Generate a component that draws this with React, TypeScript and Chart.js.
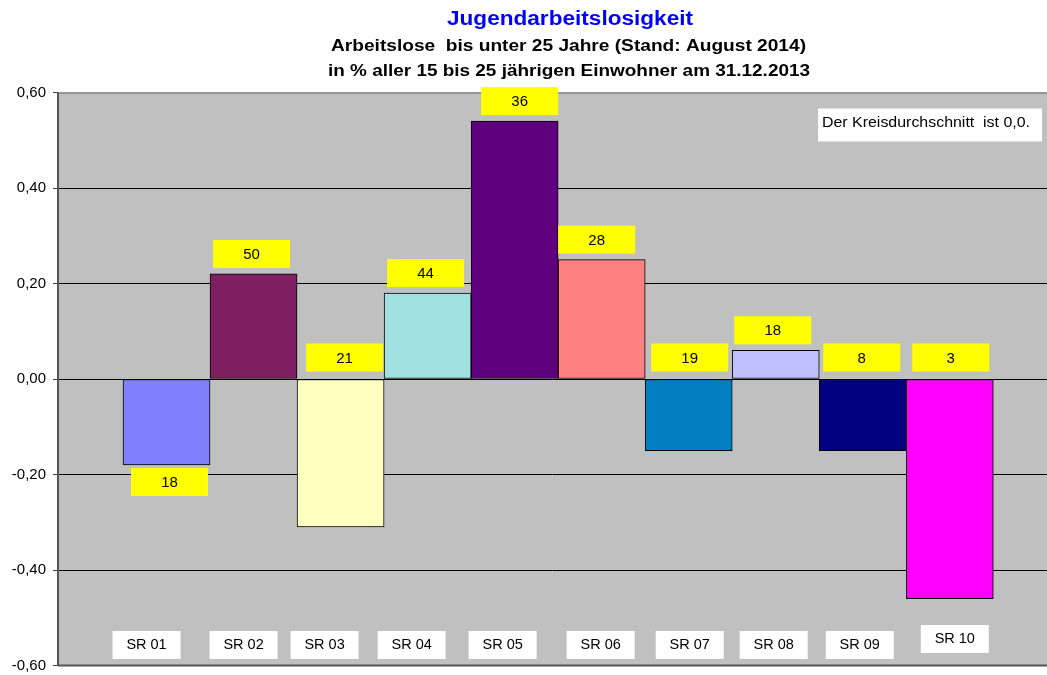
import React, { useEffect, useRef } from "react";
import { Chart, registerables } from "chart.js";

Chart.register(...registerables);

// ---------- data ----------
const categories = ["SR 01", "SR 02", "SR 03", "SR 04", "SR 05", "SR 06", "SR 07", "SR 08", "SR 09", "SR 10"];
const values = [-0.18, 0.22, -0.31, 0.18, 0.54, 0.25, -0.15, 0.06, -0.15, -0.46];
const boxLabels = ["18", "50", "21", "44", "36", "28", "19", "18", "8", "3"];
const yMin = -0.6;
const yMax = 0.6;
const yStep = 0.2;

const titleText = "Jugendarbeitslosigkeit";
const subtitle1 = "Arbeitslose  bis unter 25 Jahre (Stand: August 2014)";
const subtitle2 = "in % aller 15 bis 25 jährigen Einwohner am 31.12.2013";
const noteText = "Der Kreisdurchschnitt  ist 0,0.";

// ---------- styles ----------
const barColors = ["#8080FF", "#7F1F5F", "#FFFFC0", "#A0E0E0", "#5F007F", "#FF8080", "#0080C0", "#C0C0FF", "#000080", "#FF00FF"];
const labelPlacement = ["belowEnd", "aboveEnd", "aboveZero", "aboveEnd", "aboveEnd", "aboveEnd", "aboveZero", "aboveEnd", "aboveZero", "aboveZero"];
const labelNudgeX = [3, -2, 4, -2, 5, -5, 1, -3, -1, 1];
const axisLabelNudgeX = [-20, -10, -16, -16, -12, -1, 1, -2, -3, 5];
const axisLabelLift = [0, 0, 0, 0, 0, 0, 0, 0, 0, 6];

const FONT = "'Liberation Sans', Arial, sans-serif";

function drawText(
  ctx: CanvasRenderingContext2D,
  text: string,
  x: number,
  y: number,
  font: string,
  color: string,
  align: CanvasTextAlign = "center",
  targetWidth?: number
) {
  ctx.save();
  ctx.font = font;
  ctx.fillStyle = color;
  ctx.textAlign = align;
  ctx.textBaseline = "alphabetic";
  const w = ctx.measureText(text).width;
  const s = targetWidth ? targetWidth / w : 1;
  ctx.translate(x, y);
  ctx.scale(s, 1);
  ctx.fillText(text, 0, 0);
  ctx.restore();
}

const decorPlugin = {
  id: "decor",
  beforeDraw(chart: any) {
    const { ctx, chartArea: a } = chart;
    ctx.save();
    ctx.fillStyle = "#C0C0C0";
    ctx.fillRect(a.left, a.top, a.right - a.left, a.bottom - a.top);
    ctx.restore();
  },
  afterDatasetsDraw(chart: any) {
    const { ctx, chartArea: a } = chart;
    // plot border
    ctx.save();
    ctx.strokeStyle = "#808080";
    ctx.lineWidth = 1.5;
    ctx.beginPath();
    ctx.moveTo(a.left, a.top + 0.5);
    ctx.lineTo(a.right, a.top + 0.5);
    ctx.stroke();
    ctx.strokeStyle = "#555555";
    ctx.lineWidth = 2;
    ctx.beginPath();
    ctx.moveTo(a.left, a.top);
    ctx.lineTo(a.left, a.bottom);
    ctx.stroke();
    ctx.beginPath();
    ctx.moveTo(a.left, a.bottom);
    ctx.lineTo(a.right, a.bottom);
    ctx.stroke();
    ctx.restore();

    const meta = chart.getDatasetMeta(0);
    const boxW = 77;
    const boxH = 28;
    meta.data.forEach((el: any, i: number) => {
      const cx = el.x + labelNudgeX[i];
      let top: number;
      const place = labelPlacement[i];
      if (place === "belowEnd") top = el.y + 3;
      else if (place === "aboveZero") top = el.base - 8 - boxH;
      else top = el.y - 6 - boxH;
      ctx.save();
      ctx.fillStyle = "#FFFF00";
      ctx.fillRect(cx - boxW / 2, top, boxW, boxH);
      ctx.restore();
      drawText(ctx, boxLabels[i], cx, top + 19, `15px ${FONT}`, "#000000");

      // category label boxes
      const lx = el.x + axisLabelNudgeX[i];
      const ltop = a.bottom - 34.5 - axisLabelLift[i];
      const lw = 68;
      const lh = 28;
      ctx.save();
      ctx.fillStyle = "#FFFFFF";
      ctx.fillRect(lx - lw / 2, ltop, lw, lh);
      ctx.restore();
      drawText(ctx, categories[i], lx, ltop + 18, `14.5px ${FONT}`, "#000000");
    });

    // note box
    ctx.save();
    ctx.fillStyle = "#FFFFFF";
    ctx.fillRect(a.right - 229, a.top + 16, 224, 33);
    ctx.restore();
    drawText(ctx, noteText, a.right - 225, a.top + 34, `14px ${FONT}`, "#000000", "left", 208);

    // titles
    drawText(ctx, titleText, 570, 25, `bold 20px ${FONT}`, "#0000FF", "center", 246);
    drawText(ctx, subtitle1, 568.5, 51, `bold 16px ${FONT}`, "#000000", "center", 475);
    drawText(ctx, subtitle2, 569, 76, `bold 16px ${FONT}`, "#000000", "center", 482);
  },
};

export default function App() {
  const ref = useRef<HTMLCanvasElement>(null);
  useEffect(() => {
    const canvas = ref.current;
    if (!canvas) return;
    const chart = new Chart(canvas, {
      type: "bar",
      data: {
        datasets: [
          {
            label: "Jugendarbeitslosigkeit",
            data: values.map((v, i) => ({ x: i, y: v })),
            backgroundColor: barColors,
            borderColor: "#000000",
            borderWidth: 1,
            borderSkipped: false,
            categoryPercentage: 1,
            barPercentage: 1,
          } as any,
        ],
      },
      options: {
        animation: false,
        responsive: true,
        maintainAspectRatio: false,
        layout: { padding: { top: 92.5, bottom: 9.5, left: 0, right: 0 } },
        plugins: {
          legend: { display: false },
          tooltip: { enabled: false },
          title: { display: false },
        },
        scales: {
          x: {
            type: "linear",
            min: -1.247,
            max: 10.117,
            offset: false,
            display: false,
          },
          y: {
            type: "linear",
            min: yMin,
            max: yMax,
            ticks: {
              stepSize: yStep,
              color: "#000000",
              padding: 7,
              font: { family: FONT, size: 15 },
              callback: (v: any) => {
                const n = Number(v);
                if (Math.abs(n) < 1e-9) return "0,00";
                return n.toFixed(2).replace(".", ",");
              },
            },
            grid: {
              color: (c: any) => {
                const v = c.tick ? c.tick.value : 0;
                return Math.abs(Math.abs(v) - 0.6) < 1e-6 ? "rgba(0,0,0,0)" : "#000000";
              },
              lineWidth: 1,
              drawTicks: true,
              tickLength: 5,
              tickColor: "#404040",
            },
            border: { display: false },
            afterFit: (s: any) => {
              s.width = 58;
              s.paddingTop = 0;
              s.paddingBottom = 0;
            },
          },
        },
      },
      plugins: [decorPlugin],
    });
    return () => chart.destroy();
  }, []);
  return (
    <div style={{ position: "fixed", left: 0, top: 0, width: 1047, height: 675, background: "#ffffff" }}>
      <canvas ref={ref} />
    </div>
  );
}
